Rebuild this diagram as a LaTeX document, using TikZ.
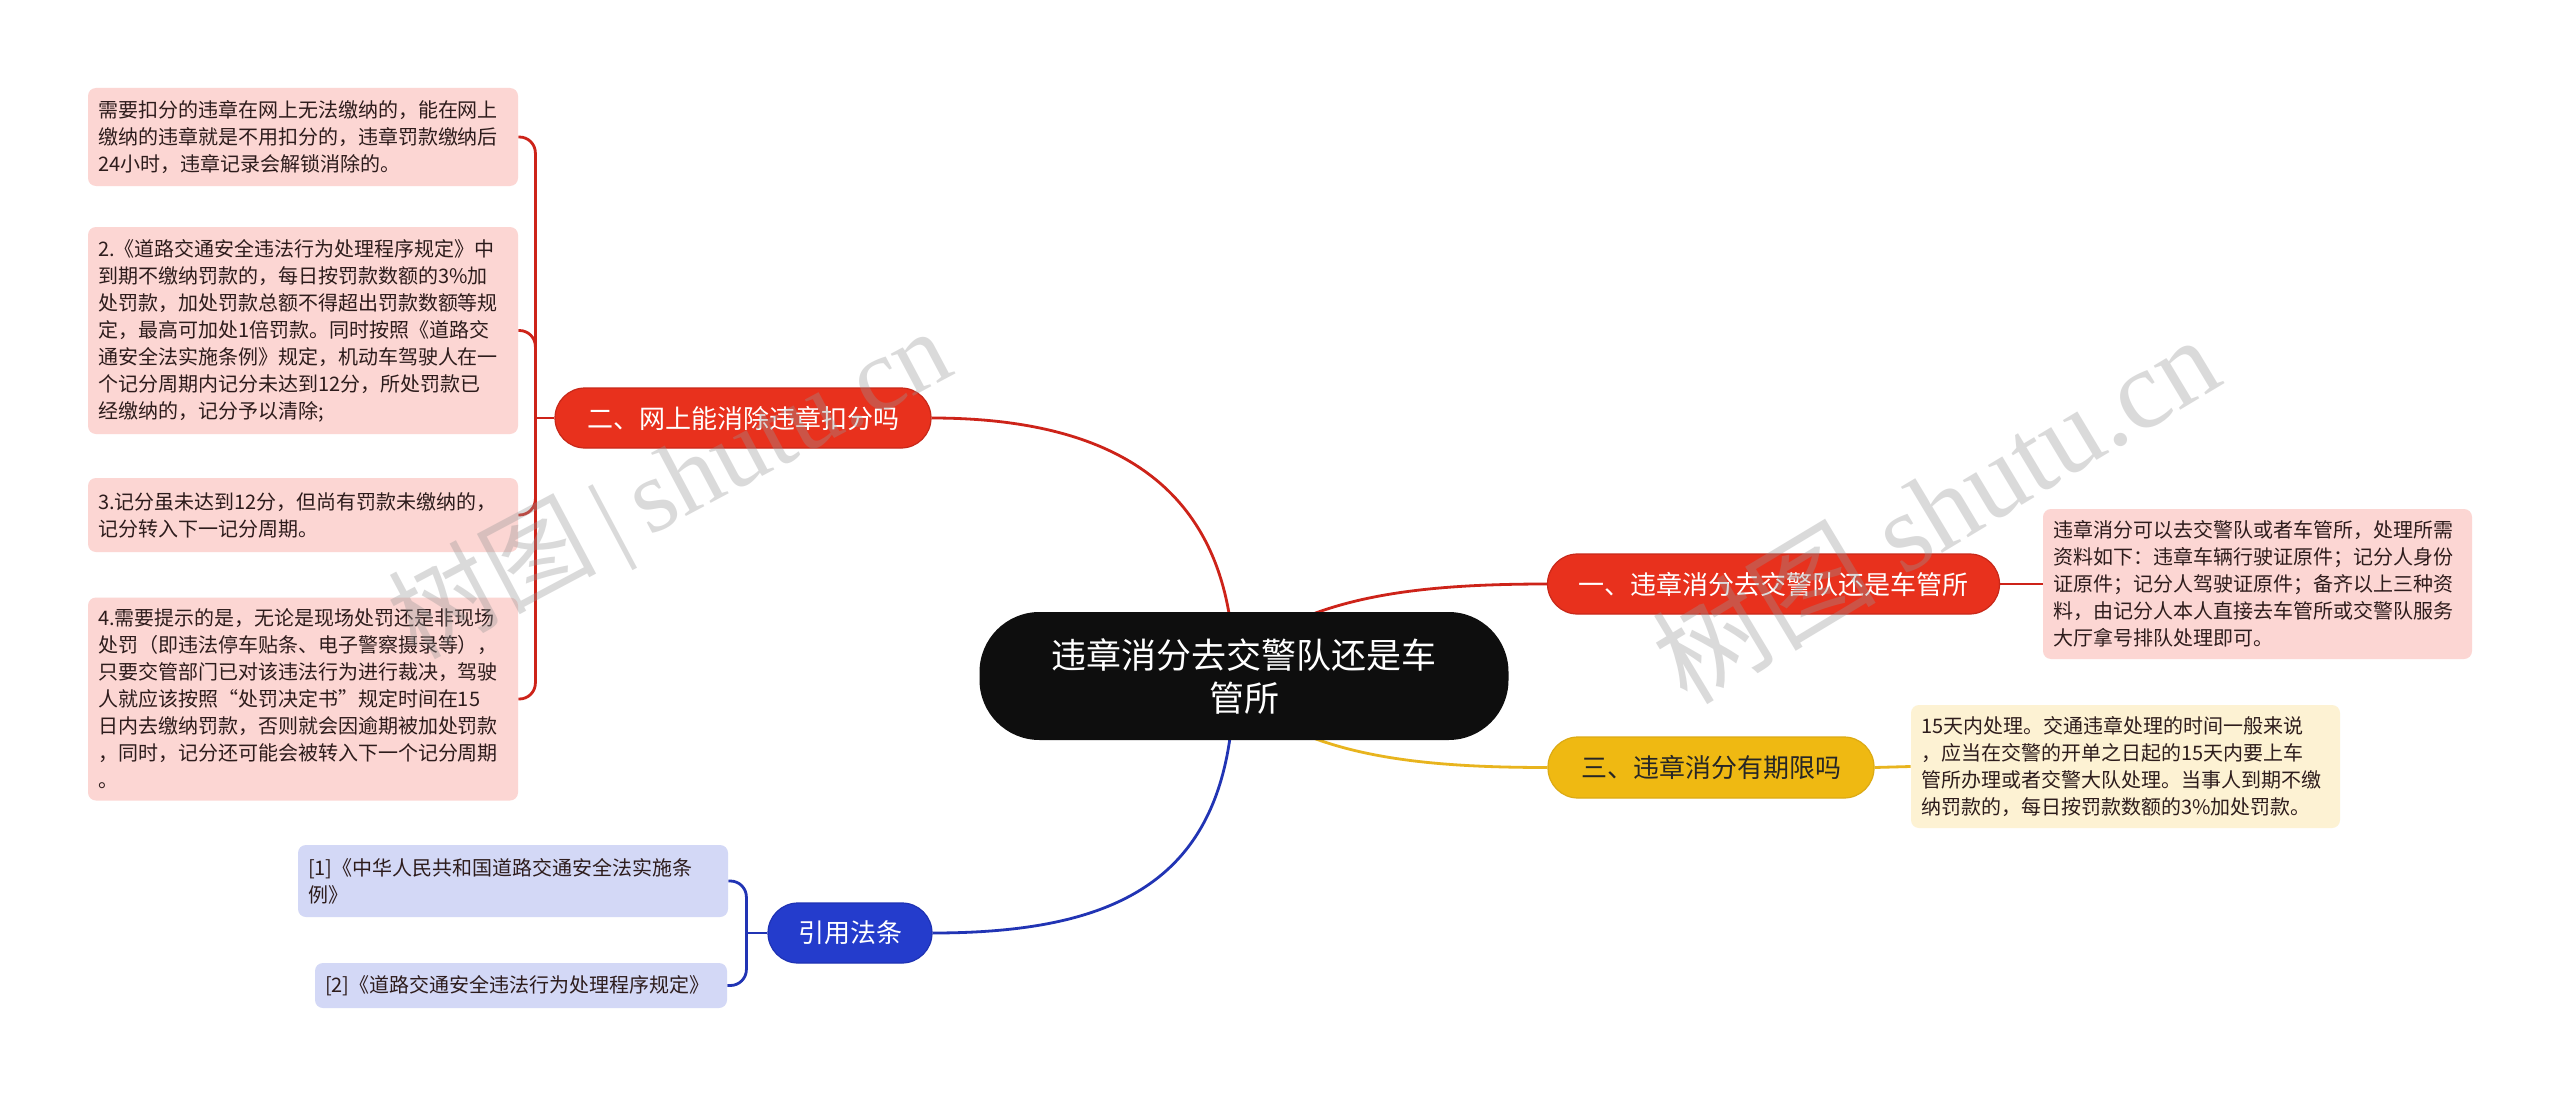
\documentclass[tikz,border=0pt]{standalone}
\usepackage{fontspec}
\setmainfont{Noto Sans CJK SC}
\newfontfamily\wmlatin{Liberation Serif}
\usetikzlibrary{calc,backgrounds}
\definecolor{cRed}{RGB}{232,49,29}
\definecolor{cRedDark}{RGB}{200,40,25}
\definecolor{cRedLine}{RGB}{205,35,25}
\definecolor{cPink}{RGB}{252,214,211}
\definecolor{cYel}{RGB}{239,185,18}
\definecolor{cYelDark}{RGB}{220,170,20}
\definecolor{cYelLine}{RGB}{232,180,30}
\definecolor{cCream}{RGB}{253,242,211}
\definecolor{cBlue}{RGB}{36,60,204}
\definecolor{cBlueDark}{RGB}{30,50,180}
\definecolor{cBlueLine}{RGB}{33,52,180}
\definecolor{cLav}{RGB}{211,216,246}
\definecolor{cBlack}{RGB}{14,14,14}
\definecolor{cLeafText}{RGB}{45,28,28}
\definecolor{cWM}{RGB}{150,150,150}
\begin{document}
\begin{tikzpicture}[x=0.5pt,y=-0.5pt,
  centerbox/.style={fill=cBlack, text=white, rounded corners=30pt, minimum width=264.5pt,
    minimum height=64pt, inner sep=0pt, align=center, font=\fontsize{17.5pt}{21.5pt}\selectfont},
  branchbox/.style={rounded corners=15pt, minimum height=30pt, inner sep=0pt, line width=0.6pt,
    font=\fontsize{13pt}{15pt}\selectfont},
  redbranch/.style={branchbox, fill=cRed, draw=cRedDark, text=white},
  yelbranch/.style={branchbox, fill=cYel, draw=cYelDark, text=black!85},
  bluebranch/.style={branchbox, fill=cBlue, draw=cBlueDark, text=white},
  leafbox/.style={rounded corners=4pt, inner xsep=5pt, inner ysep=0pt, align=left,
    text=cLeafText, font=\fontsize{10pt}{13.5pt}\selectfont},
  pinkleaf/.style={leafbox, fill=cPink},
  creamleaf/.style={leafbox, fill=cCream},
  lavleaf/.style={leafbox, fill=cLav},
  redline/.style={draw=cRedLine, line width=1.4pt},
  yelline/.style={draw=cYelLine, line width=1.4pt},
  blueline/.style={draw=cBlueLine, line width=1.4pt},
  watermark/.style={text=cWM, opacity=0.35, inner sep=0pt}
]
\useasboundingbox (0,0) rectangle (2560,1097);

% center
\node[centerbox] (c) at (1244,676) {违章消分去交警队还是车\\管所};

% branches
\node[redbranch, minimum width=226pt] (b1) at (1773.5,584) {一、违章消分去交警队还是车管所};
\node[redbranch, minimum width=188pt] (b2) at (743,418) {二、网上能消除违章扣分吗};
\node[yelbranch, minimum width=163pt, minimum height=30.5pt] (b3) at (1711,767.5) {三、违章消分有期限吗};
\node[bluebranch, minimum width=82pt] (b4) at (850,933) {引用法条};

% right leaves
\node[pinkleaf, text width=204.5pt, minimum height=75pt] (r1) at (2257.5,584)
  {违章消分可以去交警队或者车管所，处理所需\\资料如下：违章车辆行驶证原件；记分人身份\\证原件；记分人驾驶证原件；备齐以上三种资\\料，由记分人本人直接去车管所或交警队服务\\大厅拿号排队处理即可。};
\node[creamleaf, text width=204.5pt, minimum height=61.5pt] (y1) at (2125.5,766.5)
  {15天内处理。交通违章处理的时间一般来说\\，应当在交警的开单之日起的15天内要上车\\管所办理或者交警大队处理。当事人到期不缴\\纳罚款的，每日按罚款数额的3\%加处罚款。};

% left leaves
\node[pinkleaf, text width=205pt, minimum height=49pt] (l1) at (303,137)
  {需要扣分的违章在网上无法缴纳的，能在网上\\缴纳的违章就是不用扣分的，违章罚款缴纳后\\24小时，违章记录会解锁消除的。};
\node[pinkleaf, text width=205pt, minimum height=103.5pt] (l2) at (303,330.5)
  {2.《道路交通安全违法行为处理程序规定》中\\到期不缴纳罚款的，每日按罚款数额的3\%加\\处罚款，加处罚款总额不得超出罚款数额等规\\定，最高可加处1倍罚款。同时按照《道路交\\通安全法实施条例》规定，机动车驾驶人在一\\个记分周期内记分未达到12分，所处罚款已\\经缴纳的，记分予以清除;};
\node[pinkleaf, text width=205pt, minimum height=37pt] (l3) at (303,515)
  {3.记分虽未达到12分，但尚有罚款未缴纳的，\\记分转入下一记分周期。};
\node[pinkleaf, text width=205pt, minimum height=101.5pt] (l4) at (303,699)
  {4.需要提示的是，无论是现场处罚还是非现场\\处罚（即违法停车贴条、电子警察摄录等），\\只要交管部门已对该违法行为进行裁决，驾驶\\人就应该按照“处罚决定书”规定时间在15\\日内去缴纳罚款，否则就会因逾期被加处罚款\\，同时，记分还可能会被转入下一个记分周期\\。};

% blue leaves
\node[lavleaf, text width=205pt, minimum height=36pt] (f1) at (513,881)
  {[1]《中华人民共和国道路交通安全法实施条\\例》};
\node[lavleaf, text width=196pt, minimum height=22.5pt] (f2) at (521,985.5)
  {[2]《道路交通安全违法行为处理程序规定》};

\coordinate (j2) at ($(b2.west)+(-19,0)$);
\coordinate (j4) at ($(b4.west)+(-21,0)$);

\begin{pgfonlayer}{background}
  \fill[white] (0,0) rectangle (2560,1097);
  % main connectors
  \draw[redline] ($(c)+(16,-36)$) .. controls ($(c)+(86,-80)$) and ($(b1.west)+(-127,0)$) .. (b1.west);
  \draw[redline] ($(c)+(-10,0)$) .. controls ($(c)+(-10,-176)$) and ($(b2.east)+(199,0)$) .. (b2.east);
  \draw[yelline] ($(c)+(16,36)$) .. controls ($(c)+(86,80)$) and ($(b3.west)+(-127,0)$) .. (b3.west);
  \draw[blueline] ($(c)+(-10,0)$) .. controls ($(c)+(-10,196)$) and ($(b4.east)+(198,0)$) .. (b4.east);
  % leaf connectors
  \draw[redline] (b1.east) -- (r1.west);
  \draw[yelline] (b3.east) -- (y1.west);
  \draw[redline] (b2.west) -- (j2);
  \draw[redline, rounded corners=8pt] (l1.east) -| (j2);
  \draw[redline, rounded corners=8pt] (l2.east) -| (j2);
  \draw[redline, rounded corners=8pt] (l3.east) -| (j2);
  \draw[redline, rounded corners=8pt] (l4.east) -| (j2);
  \draw[blueline] (b4.west) -- (j4);
  \draw[blueline, rounded corners=8pt] (f1.east) -| (j4);
  \draw[blueline, rounded corners=8pt] (f2.east) -| (j4);
\end{pgfonlayer}

% watermarks
\node[watermark, rotate=28, font=\fontsize{52pt}{56pt}\selectfont] (wm1) at (672,488)
  {树图{\wmlatin\,|\,shutu.cn}};
\node[watermark, rotate=31, font=\fontsize{56pt}{60pt}\selectfont] (wm2) at (1935,508)
  {树图{\wmlatin\ shutu.cn}};
\end{tikzpicture}
\end{document}
